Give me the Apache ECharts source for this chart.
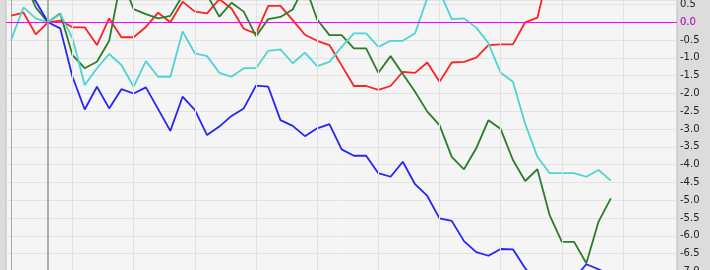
<!DOCTYPE html>
<html><head><meta charset="utf-8">
<script src="https://cdn.jsdelivr.net/npm/echarts@6/dist/echarts.min.js"></script>
<style>html,body{margin:0;padding:0;background:#dcdcdc}#c{width:710px;height:270px}</style>
</head><body><div id="c"></div>
<script>
const redValues = [0.19,0.27,-0.34,0,0.05,-0.14,-0.14,-0.64,0.11,-0.42,-0.42,-0.13,0.27,0,0.58,0.30,0.25,0.65,0.39,-0.18,-0.32,0.46,0.46,0.06,-0.35,-0.52,-0.64,-1.21,-1.79,-1.79,-1.90,-1.79,-1.39,-1.42,-1.13,-1.67,-1.13,-1.11,-0.99,-0.64,-0.62,-0.62,0,0.13,1.55,1.9,2.1,2.2,2.4,2.5];
const greenValues = [1.0,1.2,0.42,0,0.25,-0.92,-1.29,-1.11,-0.52,1.25,0.37,0.23,0.11,0.18,0.75,0.9,0.77,0.16,0.55,0.30,-0.39,0.09,0.15,0.36,1.05,0.08,-0.36,-0.36,-0.73,-0.73,-1.42,-0.95,-1.45,-1.95,-2.51,-2.89,-3.78,-4.13,-3.54,-2.75,-3.0,-3.87,-4.46,-4.13,-5.42,-6.17,-6.17,-6.77,-5.6,-4.95];
const cyanValues = [-0.48,0.42,0.11,0,0.23,-0.45,-1.76,-1.29,-0.89,-1.2,-1.81,-1.09,-1.53,-1.53,-0.26,-0.87,-0.95,-1.42,-1.53,-1.29,-1.29,-0.80,-0.76,-1.15,-0.85,-1.23,-1.11,-0.69,-0.31,-0.31,-0.69,-0.52,-0.52,-0.31,0.68,0.87,0.09,0.11,-0.15,-0.59,-1.42,-1.67,-2.85,-3.78,-4.24,-4.24,-4.24,-4.34,-4.15,-4.45];
const blueValues = [1.1,1.0,0.59,0,-0.17,-1.53,-2.45,-1.81,-2.42,-1.88,-2.0,-1.83,-2.44,-3.05,-2.09,-2.46,-3.17,-2.93,-2.63,-2.42,-1.78,-1.81,-2.75,-2.91,-3.2,-2.98,-2.86,-3.57,-3.75,-3.75,-4.24,-4.34,-3.92,-4.55,-4.88,-5.51,-5.58,-6.15,-6.46,-6.56,-6.37,-6.38,-6.91,-7.3,-7.5,-7.4,-7.2,-6.80,-6.94,-7.1];
const xGridTicks = [5,10,15,20,25,30,35,40,45,50];
const markerIndex = 3;
const zeroLevel = 0;
const zeroLabel = '0.0';

const toPairs = v => v.map((y, i) => [i, y]);
const chart = echarts.init(document.getElementById('c'), null, {renderer: 'canvas'});

const markData = xGridTicks.map(x => ({xAxis: x, lineStyle: {color: '#e2e2e2', width: 1, type: 'solid'}, label: {show: false}}));
markData.push({xAxis: markerIndex, lineStyle: {color: '#9db99d', width: 2, type: 'solid'}, label: {show: false}});
markData.push({yAxis: zeroLevel, lineStyle: {color: '#ff00ff', width: 1, type: 'solid'},
  label: {show: true, position: 'end', formatter: zeroLabel, color: '#e040e0', fontSize: 10, fontFamily: 'DejaVu Sans', distance: 3}});

const lineSeries = (name, values, color) => ({
  name, type: 'line', data: toPairs(values), showSymbol: false, symbol: 'none',
  lineStyle: {color, width: 1.8}, itemStyle: {color}, z: 3
});

chart.setOption({
  animation: false,
  backgroundColor: '#dcdcdc',
  grid: {left: 6, right: 33, top: 0, height: 271.4, outerBoundsMode: 'none', containLabel: false,
         show: true, backgroundColor: '#f5f5f5', borderColor: '#bdbdbd', borderWidth: 1},
  xAxis: {type: 'value', min: -0.433, max: 54.41, show: false},
  yAxis: {
    type: 'value', position: 'right', min: -7, max: 0.627, interval: 0.5,
    axisLine: {show: true, lineStyle: {color: '#a8a8a8'}},
    axisTick: {show: false},
    axisLabel: {margin: 3, color: '#222', fontSize: 10, fontFamily: 'DejaVu Sans', showMaxLabel: false, formatter: v => v.toFixed(1)},
    splitLine: {lineStyle: {color: '#e2e2e2'}}
  },
  series: [
    {type: 'line', data: [], clip: false, z: 1, silent: true,
     markLine: {silent: true, symbol: 'none', animation: false, data: markData}},
    lineSeries('red', redValues, '#ff2222'),
    lineSeries('green', greenValues, '#2a7d2a'),
    lineSeries('cyan', cyanValues, '#4fd3d3'),
    lineSeries('blue', blueValues, '#2424ff')
  ]
});
</script></body></html>
